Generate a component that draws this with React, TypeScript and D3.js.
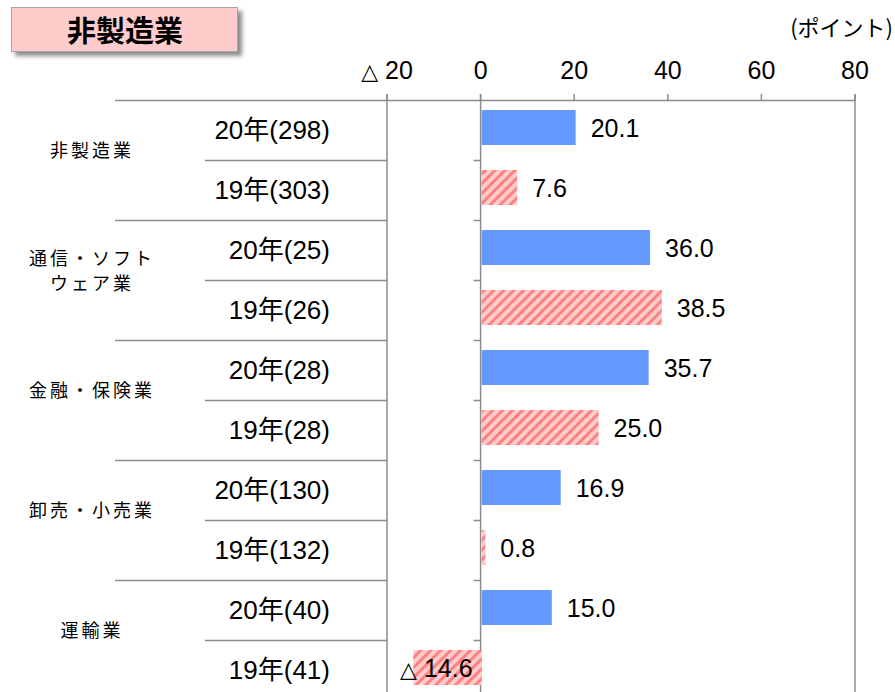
import React, { useEffect, useRef } from 'react'
import * as d3 from 'd3'

// categories (industry) and their two rows each
const categories = ["非製造業", "通信・ソフト\nウェア業", "金融・保険業", "卸売・小売業", "運輸業"]
const rowLabels = ["20年(298)", "19年(303)", "20年(25)", "19年(26)", "20年(28)", "19年(28)", "20年(130)", "19年(132)", "20年(40)", "19年(41)"]
const values = [20.1, 7.6, 36.0, 38.5, 35.7, 25.0, 16.9, 0.8, 15.0, -14.6]
const xTicks = [-20, 0, 20, 40, 60, 80]

const W = 895, H = 692
const margin = { top: 101, left: 387, right: 40 }
const FONT = "'Liberation Sans', Arial, 'Noto Sans CJK JP', sans-serif"
const JP = "'Noto Sans CJK JP', sans-serif"
const TRI = "'DejaVu Sans', sans-serif"
const gridColor = "#8c8c8c"

// writes a number, negatives as a △ followed by the absolute value
const writeNum = (t: any, v: number, gap: string) => {
    if (v < 0) {
        t.append("tspan").style("font-family", TRI).style("font-size", "22px").text("△")
        t.append("tspan").text(gap + Math.abs(v))
    } else {
        t.append("tspan").text(String(v))
    }
}

export default function App() {
    const ref = useRef<SVGSVGElement>(null)

    useEffect(() => {
        const svg = d3.select(ref.current)
        svg.selectAll("*").remove()

        const x = d3.scaleLinear().domain([-20, 80]).range([margin.left, W - margin.right])
        const y = d3.scaleBand<number>()
            .domain(d3.range(rowLabels.length))
            .range([margin.top - 1, margin.top - 1 + 60 * rowLabels.length])
        const step = y.step()

        const defs = svg.append("defs")
        const pat = defs.append("pattern")
            .attr("id", "hatch")
            .attr("patternUnits", "userSpaceOnUse")
            .attr("width", 7).attr("height", 7)
            .attr("patternTransform", "rotate(45)")
        pat.append("rect").attr("width", 7).attr("height", 7).attr("fill", "#ffcccc")
        pat.append("rect").attr("width", 3).attr("height", 7).attr("fill", "#ff8080")

        const shadow = defs.append("filter").attr("id", "shadow")
            .attr("x", "-10%").attr("y", "-20%").attr("width", "130%").attr("height", "160%")
        shadow.append("feDropShadow")
            .attr("dx", 4).attr("dy", 4).attr("stdDeviation", 2)
            .attr("flood-color", "#000").attr("flood-opacity", 0.45)

        // title box
        svg.append("rect")
            .attr("x", 11.5).attr("y", 7.5).attr("width", 226).attr("height", 44)
            .attr("fill", "#ffcccc").attr("stroke", "#a6a6a6").attr("stroke-width", 1)
            .attr("filter", "url(#shadow)")
        svg.append("text")
            .attr("x", 125).attr("y", 42)
            .attr("text-anchor", "middle")
            .style("font-family", JP).style("font-weight", "bold").style("font-size", "29px")
            .text("非製造業")

        svg.append("text")
            .attr("x", 893).attr("y", 36)
            .attr("text-anchor", "end")
            .style("font-family", JP).style("font-size", "22px")
            .text("(ポイント)")

        // top axis
        const axis = svg.append("g")
        axis.append("line")
            .attr("x1", 115).attr("x2", x(80)).attr("y1", margin.top - 0.5).attr("y2", margin.top - 0.5)
            .attr("stroke", gridColor).attr("stroke-width", 1.5)
        axis.selectAll("line.tick")
            .data(xTicks)
            .join("line")
            .attr("class", "tick")
            .attr("x1", d => x(d)).attr("x2", d => x(d))
            .attr("y1", margin.top - 7).attr("y2", margin.top)
            .attr("stroke", gridColor).attr("stroke-width", 1.5)
        axis.selectAll("text")
            .data(xTicks)
            .join("text")
            .attr("x", d => x(d))
            .attr("y", 79)
            .attr("text-anchor", "middle")
            .style("font-family", FONT).style("font-size", "25px")
            .each(function (d) { writeNum(d3.select(this), d, " ") })

        // vertical lines: left border, zero line, right border
        const bottom = y.range()[1]
        ;[-20, 0, 80].forEach(v => {
            svg.append("line")
                .attr("x1", x(v)).attr("x2", x(v))
                .attr("y1", margin.top - 7).attr("y2", bottom)
                .attr("stroke", gridColor).attr("stroke-width", 1.5)
        })

        // row separators and ticks on zero axis
        d3.range(1, rowLabels.length).forEach(i => {
            const yy = y(i)! + 0.5
            svg.append("line")
                .attr("x1", i % 2 === 0 ? 115 : 205).attr("x2", x(-20))
                .attr("y1", yy).attr("y2", yy)
                .attr("stroke", gridColor).attr("stroke-width", 1.5)
            svg.append("line")
                .attr("x1", x(0) - 7).attr("x2", x(0))
                .attr("y1", yy).attr("y2", yy)
                .attr("stroke", gridColor).attr("stroke-width", 1.5)
        })

        // bars
        const barOff = 10, barH = 35
        svg.append("g")
            .selectAll("rect")
            .data(values)
            .join("rect")
            .attr("x", d => x(Math.min(0, d)) + 1)
            .attr("y", (d, i) => y(i)! + barOff)
            .attr("width", d => Math.abs(x(d) - x(0)))
            .attr("height", barH)
            .attr("fill", (d, i) => i % 2 === 0 ? "#6699ff" : "url(#hatch)")

        // value labels
        svg.append("g")
            .selectAll("text")
            .data(values)
            .join("text")
            .attr("x", d => d < 0 ? x(0) - 8 : x(d) + 16)
            .attr("y", (d, i) => y(i)! + barOff + barH / 2 + 9)
            .attr("text-anchor", d => d < 0 ? "end" : "start")
            .style("font-family", FONT).style("font-size", "25px")
            .each(function (d) {
                const t = d3.select(this)
                if (d < 0) writeNum(t, Number(d.toFixed(1)), " ")
                else t.text(d.toFixed(1))
            })

        // row labels
        svg.append("g")
            .selectAll("text")
            .data(rowLabels)
            .join("text")
            .attr("x", 330)
            .attr("y", (d, i) => y(i)! + step / 2 + 9)
            .attr("text-anchor", "end")
            .style("font-family", FONT).style("font-size", "26px")
            .text(d => d)

        // category labels
        categories.forEach((c, k) => {
            const lines = c.split("\n")
            const cy = y(k * 2)! + step - 9
            const t = svg.append("text")
                .attr("text-anchor", "middle")
                .style("font-family", JP).style("font-size", "18px")
                .style("letter-spacing", "3px")
            lines.forEach((ln, j) => {
                t.append("tspan")
                    .attr("x", 92)
                    .attr("y", cy + 6 + (j - (lines.length - 1) / 2) * 25)
                    .text(ln)
            })
        })
    }, [])

    return (
        <svg ref={ref} width={W} height={H}
            style={{ position: "absolute", left: 0, top: 0, background: "#fff" }} />
    )
}
